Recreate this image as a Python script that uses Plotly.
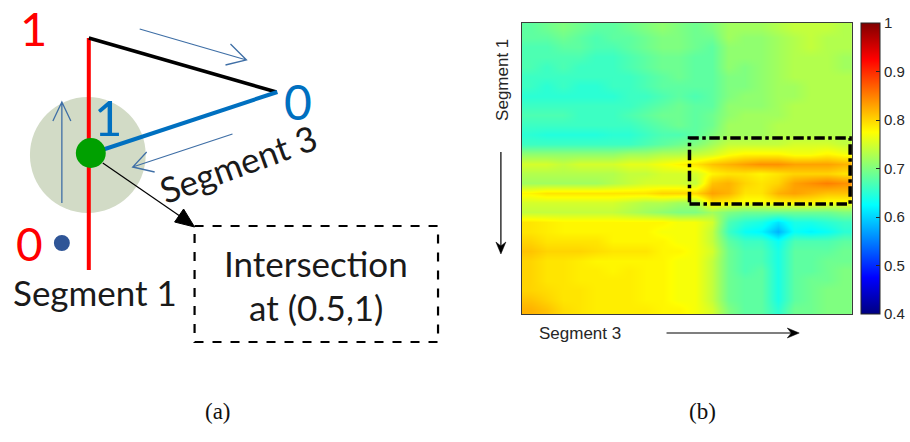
import plotly.graph_objects as go

# ---------------- data: similarity matrix (rows: Segment 1, cols: Segment 3) ----------------
similarity = [
    [0.68,0.69,0.70,0.69,0.68,0.68,0.69,0.70,0.71,0.70,0.69, 0.70,0.72,0.72,0.72,0.73,0.74,0.74,0.74,0.73],
    [0.68,0.68,0.69,0.68,0.67,0.68,0.68,0.69,0.70,0.70,0.69, 0.69,0.72,0.71,0.71,0.72,0.73,0.74,0.73,0.73],
    [0.67,0.67,0.68,0.68,0.67,0.67,0.68,0.69,0.70,0.70,0.69, 0.68,0.71,0.71,0.71,0.72,0.73,0.74,0.73,0.73],
    [0.67,0.67,0.67,0.67,0.66,0.66,0.67,0.68,0.69,0.69,0.68, 0.68,0.71,0.71,0.71,0.72,0.73,0.73,0.73,0.72],
    [0.67,0.66,0.67,0.66,0.66,0.66,0.67,0.68,0.69,0.69,0.68, 0.68,0.71,0.70,0.71,0.72,0.73,0.73,0.73,0.72],
    [0.66,0.66,0.66,0.66,0.66,0.66,0.66,0.67,0.68,0.69,0.68, 0.68,0.70,0.70,0.71,0.72,0.73,0.73,0.73,0.73],
    [0.66,0.65,0.66,0.65,0.65,0.66,0.66,0.67,0.68,0.68,0.68, 0.68,0.70,0.70,0.71,0.72,0.72,0.73,0.73,0.73],
    [0.65,0.65,0.65,0.65,0.65,0.65,0.66,0.66,0.67,0.68,0.67, 0.68,0.70,0.71,0.71,0.72,0.72,0.73,0.73,0.73],
    [0.66,0.66,0.66,0.66,0.66,0.66,0.66,0.67,0.68,0.69,0.68, 0.68,0.71,0.71,0.71,0.72,0.73,0.73,0.73,0.73],
    [0.67,0.67,0.67,0.66,0.66,0.66,0.67,0.68,0.69,0.69,0.68, 0.69,0.71,0.72,0.72,0.72,0.73,0.73,0.73,0.73],
    [0.66,0.66,0.66,0.66,0.66,0.66,0.66,0.67,0.68,0.69,0.68, 0.69,0.72,0.72,0.72,0.73,0.73,0.73,0.73,0.73],
    [0.65,0.645,0.645,0.645,0.645,0.65,0.65,0.66,0.67,0.67,0.68, 0.70,0.72,0.72,0.72,0.73,0.73,0.73,0.73,0.73],
    [0.66,0.66,0.66,0.66,0.66,0.66,0.66,0.67,0.68,0.69,0.70, 0.72,0.74,0.74,0.74,0.74,0.75,0.75,0.75,0.74],
    [0.71,0.71,0.71,0.71,0.71,0.71,0.72,0.72,0.73,0.73,0.74, 0.75,0.77,0.78,0.78,0.78,0.77,0.77,0.78,0.77],
    [0.75,0.75,0.74,0.75,0.75,0.75,0.76,0.76,0.77,0.78,0.79, 0.81,0.82,0.83,0.84,0.84,0.83,0.83,0.83,0.82],
    [0.73,0.73,0.73,0.73,0.73,0.73,0.74,0.74,0.75,0.75,0.75, 0.78,0.79,0.79,0.78,0.79,0.80,0.80,0.80,0.79],
    [0.72,0.72,0.72,0.72,0.72,0.73,0.74,0.75,0.75,0.75,0.74, 0.81,0.82,0.80,0.79,0.80,0.83,0.84,0.85,0.84],
    [0.78,0.79,0.79,0.79,0.79,0.79,0.79,0.79,0.80,0.80,0.80, 0.83,0.82,0.79,0.79,0.82,0.83,0.82,0.81,0.81],
    [0.75,0.75,0.75,0.75,0.75,0.75,0.74,0.73,0.73,0.72,0.72, 0.79,0.78,0.77,0.77,0.78,0.78,0.78,0.77,0.77],
    [0.74,0.74,0.74,0.74,0.74,0.74,0.73,0.72,0.71,0.70,0.70, 0.72,0.70,0.69,0.69,0.69,0.69,0.69,0.69,0.70],
    [0.79,0.785,0.78,0.78,0.78,0.78,0.78,0.78,0.78,0.77,0.77, 0.75,0.67,0.65,0.64,0.61,0.64,0.64,0.65,0.66],
    [0.79,0.785,0.78,0.78,0.78,0.78,0.78,0.78,0.77,0.77,0.77, 0.74,0.66,0.63,0.62,0.58,0.63,0.62,0.63,0.65],
    [0.80,0.79,0.79,0.79,0.79,0.78,0.78,0.78,0.78,0.77,0.77, 0.74,0.68,0.66,0.66,0.63,0.67,0.67,0.67,0.68],
    [0.81,0.80,0.80,0.80,0.795,0.79,0.79,0.79,0.78,0.78,0.77, 0.75,0.69,0.67,0.67,0.64,0.68,0.68,0.68,0.69],
    [0.80,0.79,0.79,0.785,0.78,0.78,0.78,0.78,0.78,0.77,0.77, 0.74,0.69,0.67,0.67,0.64,0.68,0.68,0.69,0.69],
    [0.80,0.79,0.79,0.785,0.785,0.78,0.785,0.78,0.78,0.77,0.77, 0.74,0.69,0.67,0.68,0.64,0.68,0.68,0.69,0.70],
    [0.80,0.79,0.79,0.785,0.785,0.785,0.785,0.78,0.78,0.77,0.77, 0.74,0.69,0.68,0.68,0.64,0.68,0.69,0.69,0.70],
    [0.80,0.795,0.79,0.79,0.785,0.785,0.785,0.78,0.78,0.77,0.77, 0.74,0.69,0.68,0.68,0.64,0.68,0.69,0.70,0.70],
    [0.81,0.80,0.79,0.79,0.785,0.785,0.785,0.78,0.78,0.77,0.77, 0.74,0.69,0.68,0.68,0.64,0.68,0.69,0.70,0.70],
    [0.82,0.81,0.795,0.79,0.785,0.785,0.785,0.785,0.78,0.78,0.77, 0.75,0.70,0.68,0.68,0.65,0.69,0.69,0.70,0.70],
]
cbar_tickvals = [0.4, 0.5, 0.6, 0.7, 0.8, 0.9, 1.0]
cbar_ticktext = ["0.4", "0.5", "0.6", "0.7", "0.8", "0.9", "1"]

n_rows = len(similarity)
n_cols = len(similarity[0])

jet = [[0.0, "rgb(0,0,128)"], [0.125, "rgb(0,0,255)"], [0.375, "rgb(0,255,255)"],
       [0.625, "rgb(255,255,0)"], [0.875, "rgb(255,0,0)"], [1.0, "rgb(128,0,0)"]]

W, H = 910, 442

fig = go.Figure()
fig.add_trace(go.Heatmap(
    z=similarity, colorscale=jet, zmin=0.4, zmax=1.0, zsmooth="best",
    xaxis="x", yaxis="y",
    colorbar=dict(
        x=863 / W, xanchor="left", xref="paper", xpad=0, ypad=0,
        y=1 - 168.5 / H, yanchor="middle", len=291, lenmode="pixels",
        thickness=19, thicknessmode="pixels",
        outlinewidth=1, outlinecolor="#262626",
        tickvals=cbar_tickvals, ticktext=cbar_ticktext,
        ticks="inside", ticklen=4, tickcolor="#262626",
        tickfont=dict(family="Liberation Sans, Arial", size=15, color="#262626"),
    ),
    hoverinfo="skip",
))
# invisible anchor trace for the pixel-space overlay axes (schematic panel)
fig.add_trace(go.Scatter(x=[0], y=[0], xaxis="x2", yaxis="y2", mode="markers",
                         marker=dict(opacity=0), hoverinfo="skip", showlegend=False))

axstyle = dict(showticklabels=False, ticks="", showgrid=False, zeroline=False,
               showline=True, mirror=True, linecolor="#3a3a3a", linewidth=1)
fig.update_layout(
    width=W, height=H, margin=dict(l=0, r=0, t=0, b=0),
    paper_bgcolor="white", plot_bgcolor="rgba(0,0,0,0)", showlegend=False,
    xaxis=dict(domain=[523 / W, 854 / W], range=[-0.5, n_cols - 0.5], **axstyle),
    yaxis=dict(domain=[1 - 314 / H, 1 - 23 / H], range=[n_rows - 0.5, -0.5], **axstyle),
    xaxis2=dict(domain=[0, 1], range=[0, W], visible=False, anchor="y2", fixedrange=True),
    yaxis2=dict(domain=[0, 1], range=[H, 0], visible=False, anchor="x2", fixedrange=True),
)

shapes = []
def S(**kw):
    d = dict(xref="x2", yref="y2", layer="above")
    d.update(kw)
    shapes.append(d)

# ---- panel (a): schematic ----
S(type="circle", x0=30, y0=97, x1=146, y1=213, fillcolor="#d2dbc6", line=dict(width=0))
S(type="path", path="M 89 38 L 89 270", line=dict(color="#ff0000", width=4))
S(type="path", path="M 89 38 L 277 92", line=dict(color="black", width=3.5))
S(type="path", path="M 93 153 L 278 92", line=dict(color="#0070c0", width=4))
S(type="circle", x0=76, y0=138, x1=106, y1=168, fillcolor="#00a000", line=dict(width=0))
S(type="circle", x0=54, y0=235, x1=70, y1=251, fillcolor="#2f5597", line=dict(width=0))
thin_blue = dict(color="#3f6fa6", width=1.3)
S(type="path", path="M 62 203 L 62 102 M 53 121 L 62 102 L 71 121", line=thin_blue)
S(type="path", path="M 140 29 L 247 60 M 231 44 L 247 60 L 226 65", line=thin_blue)
S(type="path", path="M 233 134 L 133 167 M 147 152 L 133 167 L 155 172", line=thin_blue)
S(type="path", path="M 103 163 L 186 220", line=dict(color="black", width=1.2))
S(type="path", path="M 195 227 L 175 222 L 184 209 Z", fillcolor="black", line=dict(color="black", width=1))
S(type="rect", x0=195, y0=226, x1=439, y1=342, line=dict(color="black", width=2.2, dash="dash"))

# ---- panel (b): axis arrows ----
S(type="path", path="M 502 152 L 502 248", line=dict(color="black", width=1.2))
S(type="path", path="M 497 242 L 502 254 L 507 242 L 502 246 Z", fillcolor="black", line=dict(color="black", width=0.5))
S(type="path", path="M 668 333 L 795 333", line=dict(color="black", width=1.2))
S(type="path", path="M 789 328 L 801 333 L 789 338 L 793 333 Z", fillcolor="black", line=dict(color="black", width=0.5))

# dash-dot region box on the heatmap
shapes.append(dict(type="rect", xref="x domain", yref="y domain",
                   x0=(691 - 523) / 331, x1=(852 - 523) / 331,
                   y0=(314 - 204) / 291, y1=(314 - 138) / 291,
                   line=dict(color="black", width=3.5, dash="dashdot"), layer="above"))

annotations = []
def A(x, y, text, size, color="#1a1a1a", family="Lato, Calibri, sans-serif", angle=0):
    annotations.append(dict(x=x, y=y, xref="x2", yref="y2", text=text, showarrow=False,
                            xanchor="center", yanchor="middle", textangle=angle,
                            font=dict(family=family, size=size, color=color)))

A(34, 28, "1", 47, color="#ff0000")
A(30, 243, "0", 46, color="#ff0000")
A(108, 117, "1", 49, color="#0070c0")
A(299, 101, "0", 48, color="#0070c0")
A(95, 292, "Segment 1", 35)
A(239, 163, "Segment 3", 35, angle=-20)
A(317, 263, "Intersection", 35)
A(317, 307, "at (0.5,1)", 35)
A(218, 411, "(a)", 23, color="#111111", family="Liberation Serif, serif")
A(704, 411, "(b)", 23, color="#111111", family="Liberation Serif, serif")
A(503, 80, "Segment 1", 17, color="#262626", family="Liberation Sans, Arial", angle=-90)
A(581, 333, "Segment 3", 17, color="#262626", family="Liberation Sans, Arial")

fig.update_layout(shapes=shapes, annotations=annotations)
fig.write_html("out.html")
